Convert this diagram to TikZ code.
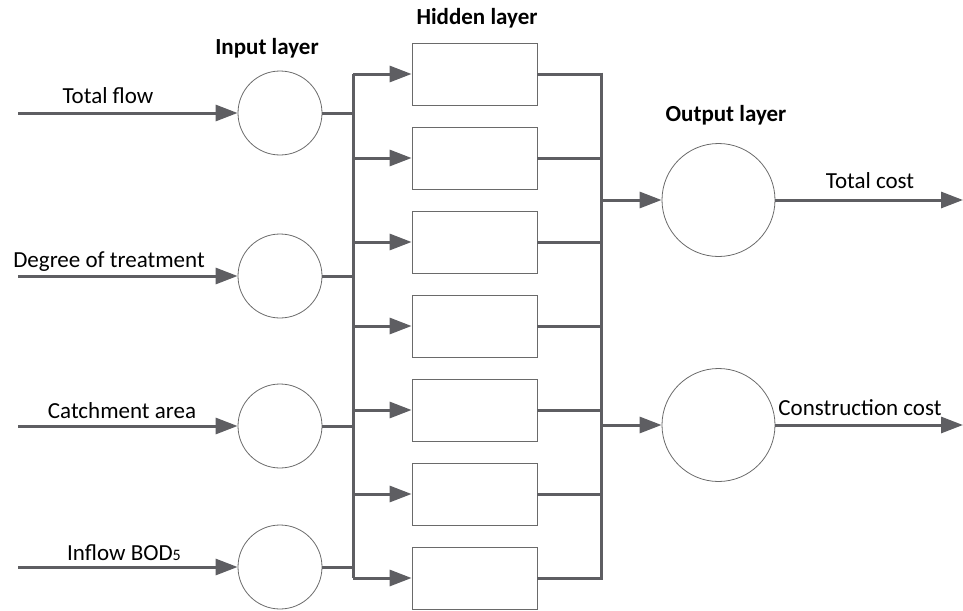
\documentclass[tikz,border=0pt]{standalone}
\usepackage{fontspec}
\setmainfont{Carlito}
\usetikzlibrary{arrows.meta}
\definecolor{wire}{HTML}{5E5E62}
\definecolor{rim}{HTML}{6A6A6A}
\tikzset{
  wire/.style={draw=wire, line width=3pt},
  flow/.style={wire, -{Triangle[length=22pt,width=16pt]}},
  neuron/.style={circle, draw=rim, line width=0.8pt, inner sep=0pt, minimum size=#1},
  unit/.style={rectangle, draw=rim, line width=0.8pt, minimum width=125pt, minimum height=62pt, inner sep=0pt},
  lbl/.style={font=\fontsize{23}{26}\selectfont, inner sep=0pt, anchor=base},
  head/.style={font=\fontsize{23}{26}\selectfont\bfseries, inner sep=0pt, anchor=base}
}
\begin{document}
\begin{tikzpicture}[x=1pt, y=-1pt]
\useasboundingbox (0,0) rectangle (963,610);

% input neurons
\node[neuron=84pt] (i1) at (280,113) {};
\node[neuron=84pt] (i2) at (280,276) {};
\node[neuron=84pt] (i3) at (280,426) {};
\node[neuron=84pt] (i4) at (280,567) {};

% hidden units
\foreach \k/\y in {1/74,2/158,3/242,4/326,5/410,6/494,7/578}
  \node[unit] (h\k) at (474.5,\y) {};

% output neurons
\node[neuron=113pt] (o1) at (718.5,200) {};
\node[neuron=113pt] (o2) at (718.5,425) {};

% bus positions and free ends
\coordinate (bl) at (353,0);
\coordinate (br) at (601,0);
\coordinate (in) at (18,0);
\coordinate (out) at (963,0);

% layer titles
\node[head] at (267,55) {Input layer};
\node[head] at (477,25) {Hidden layer};
\node[head] at (726,121) {Output layer};

% input signals
\draw[flow] (in |- i1) -- (i1.west);
\draw[flow] (in |- i2) -- (i2.west);
\draw[flow] (in |- i3) -- (i3.west);
\draw[flow] (in |- i4) -- (i4.west);
\node[lbl] at (108,103) {Total flow};
\node[lbl] at (109,267) {Degree of treatment};
\node[lbl] at (122,418) {Catchment area};
\node[lbl] at (124,560) {Inflow BOD{\fontsize{16}{16}\selectfont 5}};

% input layer to left bus
\foreach \k in {1,...,4}
  \draw[wire] (i\k.east) -- (i\k.east -| bl);
\draw[wire] (h1.west -| bl) -- (h7.west -| bl);

% left bus to hidden units
\foreach \k in {1,...,7}
  \draw[flow] (h\k.west -| bl) -- (h\k.west);

% hidden units to right bus
\foreach \k in {1,...,7}
  \draw[wire] (h\k.east) -- (h\k.east -| br);
\draw[wire] ([yshift=1.5pt]h1.east -| br) -- ([yshift=-1.5pt]h7.east -| br);

% right bus to outputs
\draw[flow] (o1.west -| br) -- (o1.west);
\draw[flow] (o2.west -| br) -- (o2.west);

% output signals
\draw[flow] (o1.east) -- (o1.east -| out);
\draw[flow] (o2.east) -- (o2.east -| out);
\node[lbl] at (870,188) {Total cost};
\node[lbl] at (860,415) {Construction cost};
\end{tikzpicture}
\end{document}
